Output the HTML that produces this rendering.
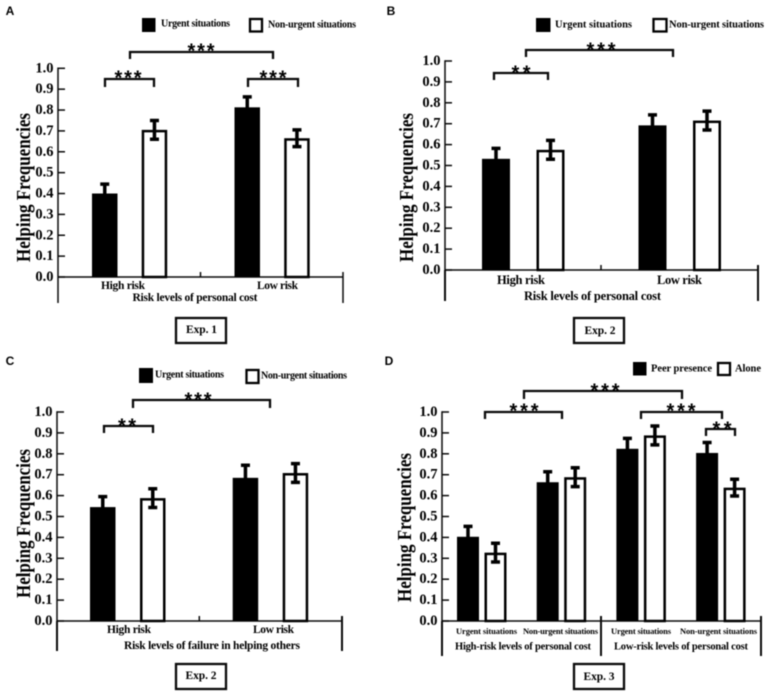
<!DOCTYPE html>
<html lang="en">
<head>
<meta charset="utf-8">
<title>Helping Frequencies by risk level and urgency</title>
<style>
  html,body{margin:0;padding:0;background:#fff;width:767px;height:692px;overflow:hidden}
  svg{display:block;filter:blur(.4px)}
  text{font-family:"Liberation Serif",serif;font-weight:bold;fill:#000}
  .c{text-anchor:middle;dominant-baseline:central}
  .letter{font-family:"Liberation Sans",sans-serif;font-size:12px;text-anchor:middle;dominant-baseline:central}
  .star{font-family:"Liberation Sans",sans-serif;font-weight:bold;font-size:20px;text-anchor:middle}
  .ytitle{font-size:19.5px;text-anchor:middle}
  .tick{font-size:14.5px;text-anchor:end;dominant-baseline:central}
  .br{fill:none;stroke:#0a0a0a;stroke-width:2.3}
  .box{fill:#fff;stroke:#0a0a0a;stroke-width:2.3}
  .sw-u{fill:#000}
  .sw-n{fill:#fff;stroke:#000;stroke-width:2.3}
</style>
</head>
<body>
<svg id="figure" width="767" height="692" viewBox="0 0 767 692" xmlns="http://www.w3.org/2000/svg">

  <!-- Panel A static furniture -->
  <g id="panel-a">
    <text class="letter" x="10" y="11">A</text>
    <g>
      <rect class="sw-u" x="142" y="18" width="13.5" height="14"/>
      <text class="c" x="195.5" y="24" font-size="10" textLength="69">Urgent situations</text>
      <rect class="sw-n" x="250" y="19" width="12" height="12.5"/>
      <text class="c" x="312" y="25" font-size="10" textLength="88">Non-urgent situations</text>
    </g>
    <path class="br" d="M130 59V52H273V59"/>
    <text class="star" x="201" y="57.5" textLength="27">***</text>
    <path class="br" d="M105 87V79H154V87"/>
    <text class="star" x="128" y="84.5" textLength="27">***</text>
    <path class="br" d="M248 87V79H298V87"/>
    <text class="star" x="273" y="84.5" textLength="27">***</text>
    <text class="c" x="123" y="286" font-size="11.5" textLength="44">High risk</text>
    <text class="c" x="277.5" y="286" font-size="11.5" textLength="41">Low risk</text>
    <text class="c" x="195" y="298" font-size="11.5" textLength="125">Risk levels of personal cost</text>
    <text class="ytitle" transform="translate(30 187.5) rotate(-90)" textLength="149" lengthAdjust="spacingAndGlyphs">Helping Frequencies</text>
    <rect class="box" x="176" y="318" width="50" height="25"/>
    <text class="c" x="201.5" y="330" font-size="11.5" textLength="31">Exp. 1</text>
  </g>

  <!-- Panel B static furniture -->
  <g id="panel-b">
    <text class="letter" x="391" y="11">B</text>
    <g>
      <rect class="sw-u" x="536" y="18" width="14.5" height="14"/>
      <text class="c" x="593.5" y="25" font-size="10.5" textLength="77">Urgent situations</text>
      <rect class="sw-n" x="653.5" y="19" width="13" height="12.5"/>
      <text class="c" x="716.5" y="25" font-size="10.5" textLength="95">Non-urgent situations</text>
    </g>
    <path class="br" d="M526 57V50H673V57"/>
    <text class="star" x="601" y="56.5" textLength="29">***</text>
    <path class="br" d="M494 80V73H548V80"/>
    <text class="star" x="521" y="79.5" textLength="19">**</text>
    <text class="c" x="521" y="280" font-size="12.5" textLength="48">High risk</text>
    <text class="c" x="679.5" y="280" font-size="12.5" textLength="45">Low risk</text>
    <text class="c" x="592.5" y="296" font-size="12.5" textLength="137">Risk levels of personal cost</text>
    <text class="ytitle" transform="translate(413 187.5) rotate(-90)" textLength="149" lengthAdjust="spacingAndGlyphs">Helping Frequencies</text>
    <rect class="box" x="574" y="318" width="50" height="25"/>
    <text class="c" x="600" y="331" font-size="11.5" textLength="31">Exp. 2</text>
  </g>

  <!-- Panel C static furniture -->
  <g id="panel-c">
    <text class="letter" x="10" y="361">C</text>
    <g>
      <rect class="sw-u" x="139" y="368" width="14" height="15"/>
      <text class="c" x="189.5" y="375" font-size="10" textLength="69">Urgent situations</text>
      <rect class="sw-n" x="246.5" y="370" width="12" height="13"/>
      <text class="c" x="304" y="376" font-size="10" textLength="86">Non-urgent situations</text>
    </g>
    <path class="br" d="M133 408V400H270V408"/>
    <text class="star" x="198" y="406.5" textLength="27">***</text>
    <path class="br" d="M104 433V426H153V433"/>
    <text class="star" x="127" y="432.5" textLength="18">**</text>
    <text class="c" x="129" y="630" font-size="11.5" textLength="44">High risk</text>
    <text class="c" x="273.5" y="630" font-size="11.5" textLength="41">Low risk</text>
    <text class="c" x="212" y="646" font-size="11.5" textLength="176">Risk levels of failure in helping others</text>
    <text class="ytitle" transform="translate(30 523.5) rotate(-90)" textLength="149" lengthAdjust="spacingAndGlyphs">Helping Frequencies</text>
    <rect class="box" x="176" y="664" width="50" height="25"/>
    <text class="c" x="201" y="676" font-size="11.5" textLength="31">Exp. 2</text>
  </g>

  <!-- Panel D static furniture -->
  <g id="panel-d">
    <text class="letter" x="389" y="361">D</text>
    <g>
      <rect class="sw-u" x="633" y="362" width="13.5" height="13.5"/>
      <text class="c" x="681.5" y="369" font-size="10.5" textLength="61">Peer presence</text>
      <rect class="sw-n" x="718" y="363" width="12" height="12"/>
      <text class="c" x="748" y="369" font-size="10.5" textLength="26">Alone</text>
    </g>
    <path class="br" d="M524 399V391H682V399"/>
    <text class="star" x="605" y="397.5" textLength="29">***</text>
    <path class="br" d="M485 419V412H562V419"/>
    <text class="star" x="524" y="417.5" textLength="29">***</text>
    <path class="br" d="M641 419V412H722V419"/>
    <text class="star" x="681" y="417.5" textLength="29">***</text>
    <path class="br" d="M706 436V429H735V436"/>
    <text class="star" x="722" y="435.5" textLength="19">**</text>
    <text class="c" x="486.5" y="631" font-size="8.5" textLength="61">Urgent situations</text>
    <text class="c" x="560.5" y="631" font-size="8.5" textLength="75">Non-urgent situations</text>
    <text class="c" x="641" y="631" font-size="8.5" textLength="60">Urgent situations</text>
    <text class="c" x="718.5" y="631" font-size="8.5" textLength="77">Non-urgent situations</text>
    <text class="c" x="523" y="647" font-size="10.5" textLength="136">High-risk levels of personal cost</text>
    <text class="c" x="681" y="647" font-size="10.5" textLength="134">Low-risk levels of personal cost</text>
    <text class="ytitle" transform="translate(411 527.5) rotate(-90)" textLength="149" lengthAdjust="spacingAndGlyphs">Helping Frequencies</text>
    <rect class="box" x="574" y="664" width="50" height="25"/>
    <text class="c" x="599" y="677" font-size="11.5" textLength="31">Exp. 3</text>
  </g>
</svg>

<script>
// Shared axis ticks
const tickLabels = ['0.0','0.1','0.2','0.3','0.4','0.5','0.6','0.7','0.8','0.9','1.0'];

// Panel A (Exp. 1): High risk, Low risk
const urgentA = [0.40, 0.813];
const nonUrgentA = [0.705, 0.665];
const urgentErrA = [0.045, 0.05];
const nonUrgentErrA = [0.045, 0.04];

// Panel B (Exp. 2): High risk, Low risk
const urgentB = [0.532, 0.692];
const nonUrgentB = [0.575, 0.715];
const urgentErrB = [0.05, 0.05];
const nonUrgentErrB = [0.045, 0.045];

// Panel C (Exp. 2): High risk, Low risk
const urgentC = [0.545, 0.685];
const nonUrgentC = [0.588, 0.708];
const urgentErrC = [0.05, 0.06];
const nonUrgentErrC = [0.045, 0.045];

// Panel D (Exp. 3): Urgent/high, Non-urgent/high, Urgent/low, Non-urgent/low
const peerD = [0.403, 0.664, 0.824, 0.804];
const aloneD = [0.327, 0.688, 0.888, 0.638];
const peerErrD = [0.05, 0.05, 0.05, 0.05];
const aloneErrD = [0.045, 0.045, 0.045, 0.04];

const SVGNS = 'http://www.w3.org/2000/svg';

function make(parent, tag, attrs) {
  const el = document.createElementNS(SVGNS, tag);
  for (const key in attrs) el.setAttribute(key, attrs[key]);
  parent.appendChild(el);
  return el;
}

function drawPanel(panelId, geo, seriesBlack, seriesWhite, errBlack, errWhite) {
  const root = document.getElementById(panelId);
  const yScale = function (v) { return geo.y0 + (geo.y1 - geo.y0) * v; };
  const xScale = function (group, series) { return geo.start + group * geo.groupStep + series * geo.barStep; };

  const axes = make(root, 'g', {});
  
  

  const yAxis = make(axes, 'line', { x1: geo.x, x2: geo.x, y1: yScale(1) - 0.75, y2: yScale(0), stroke: '#0a0a0a', 'stroke-width': 1.5 });
  
  

  const xAxis = make(axes, 'line', { x1: geo.x, x2: geo.right, y1: yScale(0), y2: yScale(0), stroke: '#0a0a0a', 'stroke-width': 1.5 });
  
  

  const leftDrop = make(axes, 'line', { x1: geo.x, x2: geo.x, y1: yScale(0), y2: geo.bottom, stroke: '#0a0a0a', 'stroke-width': geo.dropWidth });
  
  

  const rightDrop = make(axes, 'line', { x1: geo.right, x2: geo.right, y1: yScale(0) - 5, y2: geo.bottom, stroke: '#0a0a0a', 'stroke-width': geo.dropWidth });
  
  

  const midTick = make(axes, 'line', { x1: geo.mid, x2: geo.mid, y1: yScale(0) - (geo.midUp), y2: geo.midDown, stroke: '#0a0a0a', 'stroke-width': geo.midWidth });
  
  

  tickLabels.forEach(function (label) {
    const v = parseFloat(label);
    const tick = make(axes, 'line', { x1: geo.x, x2: geo.x + 7, y1: yScale(v), y2: yScale(v), stroke: '#0a0a0a', 'stroke-width': 1.5 });
    
    
    const text = make(axes, 'text', { class: 'tick', x: geo.x - 4.5, y: yScale(v) });
    
    
    text.textContent = label;
  });

  function drawSeries(values, errors, seriesIndex, filled) {
    values.forEach(function (v, g) {
      const left = xScale(g, seriesIndex);
      const top = yScale(v);
      const base = yScale(0);
      const cx = left + geo.barWidth / 2;
      const inset = filled ? 0 : 1.25;
      const bar = make(root, 'rect', {
        x: left + inset, y: top + inset,
        width: geo.barWidth - inset * 2, height: base - top - inset,
        fill: filled ? '#000' : '#fff',
        stroke: filled ? 'none' : '#000',
        'stroke-width': filled ? 0 : 2.5
      });
      
      

      const hi = yScale(v + errors[g]);
      const lo = yScale(v - errors[g]);
      const err = make(root, 'path', {
        d: 'M' + (cx - 4.5) + ' ' + hi + 'H' + (cx + 4.5) + 'M' + cx + ' ' + hi + 'V' + lo + 'M' + (cx - 4.5) + ' ' + lo + 'H' + (cx + 4.5),
        fill: 'none', stroke: '#000', 'stroke-width': 3.5
      });
      
      
    });
  }

  drawSeries(seriesBlack, errBlack, 0, true);
  drawSeries(seriesWhite, errWhite, 1, false);
}

drawPanel('panel-a',
  { x: 58, right: 343, y0: 277, y1: 68.3, bottom: 303, start: 92, barStep: 49.7, groupStep: 142.5, barWidth: 25.5, mid: 200.5, midUp: 5, midDown: 277, midWidth: 1.5, dropWidth: 1.5 },
  urgentA, nonUrgentA, urgentErrA, nonUrgentErrA);

drawPanel('panel-b',
  { x: 445, right: 758, y0: 270, y1: 61, bottom: 301, start: 482, barStep: 54.5, groupStep: 156.5, barWidth: 28, mid: 601, midUp: 5, midDown: 270, midWidth: 1.5, dropWidth: 2 },
  urgentB, nonUrgentB, urgentErrB, nonUrgentErrB);

drawPanel('panel-c',
  { x: 57, right: 342, y0: 621, y1: 412, bottom: 651, start: 90, barStep: 50, groupStep: 142.7, barWidth: 25.5, mid: 199.3, midUp: 5, midDown: 621, midWidth: 1.5, dropWidth: 2 },
  urgentC, nonUrgentC, urgentErrC, nonUrgentErrC);

drawPanel('panel-d',
  { x: 442, right: 761, y0: 621, y1: 412, bottom: 656, start: 457, barStep: 27.5, groupStep: 79.7, barWidth: 22, mid: 601, midUp: 5, midDown: 656, midWidth: 2, dropWidth: 2 },
  peerD, aloneD, peerErrD, aloneErrD);
</script>
</body>
</html>
